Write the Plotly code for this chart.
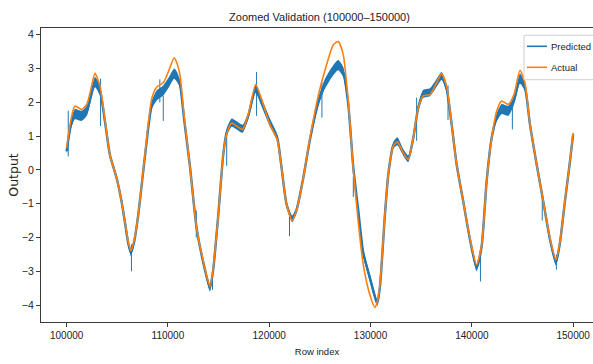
import plotly.graph_objects as go

# ---- data ----
rows = [100000, 100400, 100820, 101480, 102000, 102400, 102800, 103290, 103800, 104270,
        104935, 105400, 105755, 106100, 106350, 106650, 107070, 107730, 108390, 108880,
        109540, 110100, 110620, 110900, 111180, 111600, 112190, 112830, 113650, 114150,
        114470, 114970, 115460, 115790, 116290, 116780, 117370, 117930, 118660, 119250,
        120070, 120790, 121220, 121720, 122270, 122700, 123360, 124020, 124840, 125500,
        126320, 126810, 127300, 127800, 128290, 128790, 129280, 129940, 130430, 130660,
        130930, 131420, 131750, 132240, 132640, 133230, 133720, 134220, 134710, 135200,
        135860, 136360, 137020, 137510, 138010, 138500, 139150, 139810, 140470, 140970,
        141460, 141960, 142450, 142940, 143600, 144160, 144750, 145240, 145740, 146400,
        147050, 147710, 148300, 148700, 149190, 149690, 150000]

actual = [0.65, 1.45, 1.89, 1.79, 1.95, 2.40, 2.86, 2.48, 1.45, 0.45,
          -0.24, -0.90, -1.52, -2.15, -2.39, -2.10, -1.33, 0.45, 2.09, 2.45,
          2.58, 2.95, 3.32, 3.15, 2.83, 1.60, 0.06, -1.72, -2.91, -3.45,
          -2.91, -1.33, 0.45, 1.05, 1.39, 1.30, 1.20, 1.64, 2.53, 2.09,
          1.34, 0.90, 0.06, -1.03, -1.50, -1.18, -0.24, 0.95, 2.20, 2.95,
          3.70, 3.80, 3.42, 2.05, 0.05, -1.55, -2.80, -3.70, -4.07, -3.90,
          -3.40, -1.33, -0.14, 0.70, 0.83, 0.50, 0.31, 0.95, 1.84, 2.19,
          2.23, 2.48, 2.85, 2.48, 1.34, 0.16, -0.93, -2.02, -2.81, -2.22,
          -0.34, 0.95, 1.74, 2.04, 1.94, 2.23, 2.95, 2.58, 1.34, 0.16,
          -0.93, -2.02, -2.66, -2.12, -0.93, 0.26, 1.10]

predicted = [0.55, 1.30, 1.65, 1.60, 1.75, 2.20, 2.60, 2.35, 1.40, 0.45,
             -0.24, -0.90, -1.55, -2.20, -2.45, -2.15, -1.33, 0.40, 1.90, 2.20,
             2.35, 2.60, 2.85, 2.75, 2.55, 1.50, 0.06, -1.72, -2.95, -3.50,
             -2.95, -1.33, 0.45, 1.10, 1.40, 1.32, 1.22, 1.60, 2.40, 2.00,
             1.40, 0.95, 0.06, -1.03, -1.45, -1.18, -0.24, 0.90, 2.00, 2.55,
             2.95, 3.10, 2.90, 1.95, 0.10, -1.20, -2.45, -3.20, -3.75, -3.95,
             -3.45, -1.33, -0.14, 0.72, 0.85, 0.52, 0.33, 0.95, 1.84, 2.25,
             2.30, 2.50, 2.78, 2.40, 1.34, 0.16, -0.93, -2.05, -2.90, -2.25,
             -0.34, 0.95, 1.55, 1.80, 1.75, 2.05, 2.70, 2.45, 1.34, 0.16,
             -0.93, -2.05, -2.75, -2.15, -0.93, 0.26, 1.05]

pred_spread = [0.08, 0.12, 0.15, 0.15, 0.15, 0.15, 0.15, 0.15, 0.10, 0.06,
               0.06, 0.06, 0.06, 0.08, 0.10, 0.08, 0.06, 0.06, 0.12, 0.15,
               0.15, 0.15, 0.15, 0.15, 0.12, 0.08, 0.06, 0.06, 0.08, 0.10,
               0.08, 0.06, 0.06, 0.12, 0.12, 0.12, 0.12, 0.10, 0.12, 0.12,
               0.12, 0.10, 0.06, 0.06, 0.10, 0.08, 0.06, 0.06, 0.12, 0.15,
               0.15, 0.15, 0.15, 0.10, 0.08, 0.10, 0.12, 0.12, 0.10, 0.08,
               0.08, 0.06, 0.06, 0.10, 0.12, 0.10, 0.10, 0.08, 0.10, 0.12,
               0.12, 0.12, 0.12, 0.10, 0.06, 0.06, 0.06, 0.08, 0.10, 0.08,
               0.06, 0.06, 0.12, 0.15, 0.15, 0.12, 0.15, 0.12, 0.08, 0.06,
               0.06, 0.06, 0.08, 0.08, 0.06, 0.06, 0.06]

spike_rows = [100160, 103350, 106400, 109200, 109540, 112800, 114400, 115800, 118750,
              122000, 125200, 128300, 134550, 137650, 140850, 144000, 146950, 148350]
spike_low = [0.40, 1.30, -3.00, 2.00, 1.45, -2.00, -3.55, 0.12, 1.60,
             -1.96, 1.55, -0.80, 0.86, 1.48, -3.30, 1.20, -1.50, -2.95]
spike_high = [1.75, 2.70, -2.20, 2.68, 2.20, -1.20, -3.20, 1.10, 2.90,
              -1.20, 2.60, -0.20, 2.14, 2.50, -2.40, 2.00, -0.70, -2.50]

x_ticks = [100000, 110000, 120000, 130000, 140000, 150000]
y_ticks = [-4, -3, -2, -1, 0, 1, 2, 3, 4]

BLUE = "#1f77b4"
ORANGE = "#ff7f0e"
SANS = "Liberation Sans, Arial, sans-serif"
TXT = "#222222"

W, H = 593, 364
L, R, T, B = 41, 0, 28, 42
PW, PH = W - L - R, H - T - B


def px_x(px):
    return (px - L) / PW


def px_y(py):
    return (H - B - py) / PH


fig = go.Figure()

upper = [p + s for p, s in zip(predicted, pred_spread)]
lower = [p - s for p, s in zip(predicted, pred_spread)]
fig.add_trace(go.Scatter(
    x=rows + rows[::-1], y=upper + lower[::-1], fill="toself", fillcolor=BLUE,
    line=dict(width=0, color=BLUE, shape="spline", smoothing=0.6),
    mode="lines", hoverinfo="skip", showlegend=False))

fig.add_trace(go.Scatter(
    x=rows, y=predicted, mode="lines", name="Predicted",
    line=dict(color=BLUE, width=2.4, shape="spline", smoothing=0.6), showlegend=False))

sx, sy = [], []
for r, lo, hi in zip(spike_rows, spike_low, spike_high):
    sx += [r, r, None]
    sy += [lo, hi, None]
fig.add_trace(go.Scatter(x=sx, y=sy, mode="lines", line=dict(color=BLUE, width=1),
                         hoverinfo="skip", showlegend=False))

fig.add_trace(go.Scatter(
    x=rows, y=actual, mode="lines", name="Actual",
    line=dict(color=ORANGE, width=1.6, shape="spline", smoothing=0.6), showlegend=False))

AX = "#3a3a3a"
fig.update_layout(
    width=W, height=H, margin=dict(l=L, r=R, t=T, b=B, pad=0),
    plot_bgcolor="white", paper_bgcolor="white", showlegend=False,
    title=dict(text="Zoomed Validation (100000–150000)", x=px_x(319.5), xref="paper",
               xanchor="center", y=1 - 17 / H, yref="container", yanchor="middle",
               font=dict(family=SANS, size=11, color=TXT)),
    xaxis=dict(range=[97470, 151960], tickvals=x_ticks, ticktext=[str(v) for v in x_ticks],
               showline=True, mirror=True, linecolor=AX, linewidth=1.2, ticks="outside",
               ticklen=4, tickwidth=1, tickcolor=AX, showgrid=False, zeroline=False,
               tickfont=dict(family=SANS, size=10, color=TXT),
               title=dict(text="Row index", font=dict(family=SANS, size=9.5, color=TXT), standoff=8)),
    yaxis=dict(range=[-4.5, 4.2], tickvals=y_ticks,
               ticktext=[("−" + str(-v)) if v < 0 else str(v) for v in y_ticks],
               showline=True, linecolor=AX, linewidth=1.2, ticks="outside",
               ticklen=4, tickwidth=1, tickcolor=AX, showgrid=False, zeroline=False,
               tickfont=dict(family=SANS, size=10.5, color=TXT),
               title=dict(text="Output", font=dict(family="DejaVu Sans", size=12.5, color=TXT), standoff=0)),
)

# legend drawn as a box in the upper-right corner
fig.add_shape(type="rect", xref="paper", yref="paper", x0=px_x(524), x1=px_x(600),
              y0=px_y(79.7), y1=px_y(35.3), line=dict(color="#d0d0d0", width=1),
              fillcolor="rgba(255,255,255,0.8)", layer="above")
for py, col, lab in [(46.3, BLUE, "Predicted"), (67.3, ORANGE, "Actual")]:
    fig.add_shape(type="line", xref="paper", yref="paper", x0=px_x(527), x1=px_x(547),
                  y0=px_y(py), y1=px_y(py), line=dict(color=col, width=1.6), layer="above")
    fig.add_annotation(x=px_x(549), y=px_y(py), xref="paper", yref="paper", text=lab,
                       showarrow=False, xanchor="left", yanchor="middle",
                       font=dict(family=SANS, size=9.5, color=TXT))

fig.write_html("out.html")
